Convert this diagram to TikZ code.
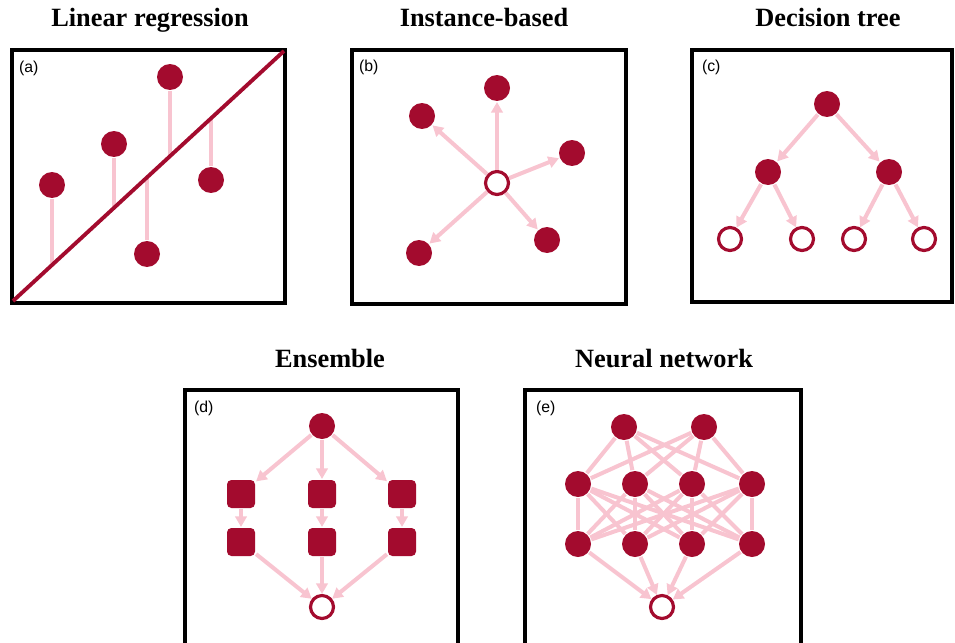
\documentclass[tikz,border=0pt]{standalone}
\usepackage{fontspec}
\setmainfont{Liberation Serif}
\setsansfont{Liberation Sans}
\usetikzlibrary{arrows.meta}
\definecolor{cred}{HTML}{A30B2E}
\definecolor{cpink}{HTML}{F8C4D0}
\tikzset{
  every picture/.style={line width=1.2pt},
  panel/.style={draw=black, line width=2.2pt},
  dot/.style={circle, fill=cred, inner sep=0pt, minimum size=0.52cm},
  hollow/.style={circle, draw=cred, fill=white, line width=1.8pt, inner sep=0pt, minimum size=0.46cm},
  block/.style={rectangle, fill=cred, rounded corners=2.5pt, inner sep=0pt, minimum size=0.56cm},
  link/.style={draw=cpink, line width=2.3pt},
  arrow/.style={link, -{Triangle[length=6pt, width=6.5pt]}},
  fitline/.style={draw=cred, line width=2.2pt},
  title/.style={font=\bfseries\fontsize{15}{18}\selectfont, anchor=base},
  tag/.style={font=\sffamily\fontsize{9}{11}\selectfont, anchor=west, inner sep=0pt},
}

\begin{document}
\begin{tikzpicture}[x=0.02cm, y=-0.02cm]
  \clip (0,0) rectangle (955,642);

  % (a) linear regression
  \node[title] (ta) at (150,27) {Linear regression};
  \draw[panel] (12,50) rectangle (285,303);
  \node[tag] (la) at (18,68) {(a)};
  \node[dot] (p1) at (52,185) {};
  \node[dot] (p2) at (114,144) {};
  \node[dot] (p3) at (170,77) {};
  \node[dot] (p4) at (147,254) {};
  \node[dot] (p5) at (211,180) {};
  \coordinate (r1) at (52,265);
  \coordinate (r2) at (114,208);
  \coordinate (r3) at (170,156);
  \coordinate (r4) at (147,177);
  \coordinate (r5) at (211,118);
  \draw[link] (p1) -- (r1);
  \draw[link] (p2) -- (r2);
  \draw[link] (p3) -- (r3);
  \draw[link] (p4) -- (r4);
  \draw[link] (p5) -- (r5);
  \coordinate (lo) at (13,301);
  \coordinate (hi) at (284,51);
  \draw[fitline] (lo) -- (hi);

  % (b) instance-based
  \node[title] (tb) at (484,27) {Instance-based};
  \draw[panel] (352,50) rectangle (626,304);
  \node[tag] (lb) at (358,67) {(b)};
  \node[hollow] (q0) at (497,183) {};
  \node[dot] (q1) at (422,116) {};
  \node[dot] (q2) at (497,88) {};
  \node[dot] (q3) at (572,153) {};
  \node[dot] (q4) at (419,253) {};
  \node[dot] (q5) at (547,240) {};
  \foreach \k in {1,...,5}
    \draw[arrow] (q0) -- (q\k);

  % (c) decision tree
  \node[title] (tc) at (828,27) {Decision tree};
  \draw[panel] (692,50) rectangle (952,302);
  \node[tag] (lc) at (701,67) {(c)};
  \node[dot] (root) at (827,104) {};
  \node[dot] (cl) at (768,172) {};
  \node[dot] (cr) at (889,172) {};
  \node[hollow] (v1) at (730,239) {};
  \node[hollow] (v2) at (802,239) {};
  \node[hollow] (v3) at (854,239) {};
  \node[hollow] (v4) at (924,239) {};
  \draw[arrow] (root) -- (cl);
  \draw[arrow] (root) -- (cr);
  \draw[arrow] (cl) -- (v1);
  \draw[arrow] (cl) -- (v2);
  \draw[arrow] (cr) -- (v3);
  \draw[arrow] (cr) -- (v4);

  % (d) ensemble
  \node[title] (td) at (330,367) {Ensemble};
  \draw[panel] (185,390) rectangle (458,670);
  \node[tag] (ld) at (193,408) {(d)};
  \node[dot] (top) at (322,426) {};
  \node[hollow] (vote) at (322,607) {};
  \foreach \x [count=\k] in {241,322,402} {
    \node[block] (s\k) at (\x,494) {};
    \node[block] (t\k) at (\x,542) {};
    \draw[arrow] (top) -- (s\k);
    \draw[arrow] (s\k) -- (t\k);
    \draw[arrow] (t\k) -- (vote);
  }

  % (e) neural network
  \node[title] (te) at (664,367) {Neural network};
  \draw[panel] (525,390) rectangle (801,670);
  \node[tag] (le) at (535,408) {(e)};
  \node[dot] (i1) at (624,427) {};
  \node[dot] (i2) at (704,427) {};
  \node[hollow] (out) at (662,607) {};
  \foreach \x [count=\k] in {578,635,692,752} {
    \node[dot] (h\k) at (\x,484) {};
    \node[dot] (g\k) at (\x,544) {};
  }
  \foreach \i in {1,2}
    \foreach \j in {1,...,4}
      \draw[link] (i\i) -- (h\j);
  \foreach \i in {1,...,4}
    \foreach \j in {1,...,4}
      \draw[link] (h\i) -- (g\j);
  \foreach \k in {1,...,4}
    \draw[arrow] (g\k) -- (out);
\end{tikzpicture}
\end{document}
